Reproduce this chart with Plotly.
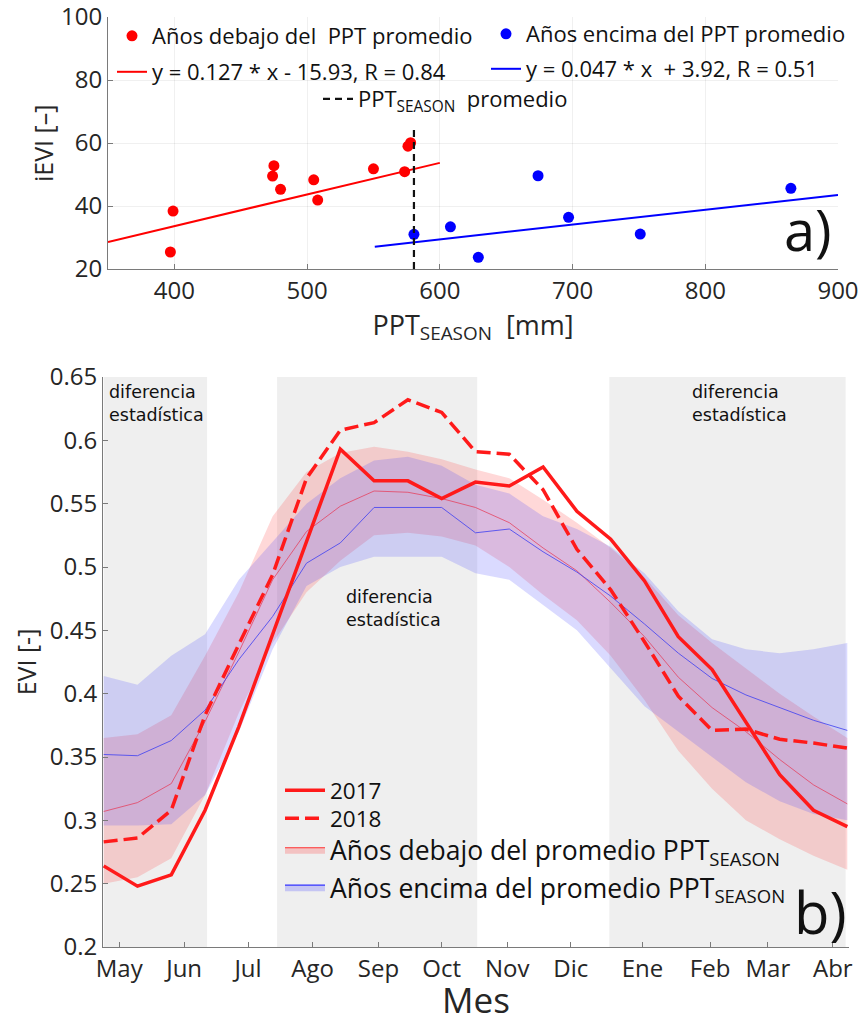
import plotly.graph_objects as go

# ---------------- Panel a) data ----------------
ppt_below = [397, 399, 475, 474, 480, 505, 508, 550, 573.5, 576, 578]
ievi_below = [25.4, 38.4, 52.8, 49.5, 45.3, 48.3, 41.9, 51.8, 50.9, 59.0, 60.1]
ppt_above = [580.5, 608, 629, 674, 697, 751, 864.5]
ievi_above = [31.0, 33.4, 23.7, 49.6, 36.4, 31.1, 45.6]
fit_below_x = [350, 600]
fit_below_y = [28.6, 53.7]
fit_above_x = [551, 900]
fit_above_y = [27.1, 43.5]
ppt_mean = 580.5
ppt_mean_line_y = [20, 64.8]

# ---------------- Panel b) data ----------------
idx = list(range(23))  # 16-day composites
months = ["May", "Jun", "Jul", "Ago", "Sep", "Oct", "Nov", "Dic", "Ene", "Feb", "Mar", "Abr"]
month_pos = [0.46, 2.38, 4.27, 6.18, 8.13, 10.0, 11.94, 13.82, 15.94, 17.94, 19.65, 21.57]

evi_2017 = [0.264, 0.248, 0.257, 0.308, 0.374, 0.447, 0.521, 0.593, 0.568, 0.568, 0.554, 0.567,
            0.564, 0.579, 0.544, 0.522, 0.489, 0.445, 0.419, 0.377, 0.336, 0.308, 0.295]
evi_2018 = [0.283, 0.286, 0.308, 0.383, 0.439, 0.494, 0.570, 0.608, 0.614, 0.632, 0.622, 0.591,
            0.589, 0.561, 0.514, 0.482, 0.441, 0.398, 0.371, 0.372, 0.364, 0.361, 0.357]
below_mean = [0.307, 0.314, 0.329, 0.378, 0.433, 0.490, 0.528, 0.548, 0.560, 0.559, 0.554, 0.547,
              0.535, 0.515, 0.497, 0.472, 0.445, 0.413, 0.389, 0.370, 0.348, 0.328, 0.313]
below_upper = [0.365, 0.368, 0.383, 0.430, 0.480, 0.540, 0.575, 0.590, 0.595, 0.591, 0.585, 0.577,
               0.570, 0.553, 0.535, 0.515, 0.492, 0.462, 0.440, 0.420, 0.400, 0.382, 0.365]
below_lower = [0.250, 0.255, 0.270, 0.320, 0.385, 0.440, 0.480, 0.505, 0.525, 0.527, 0.524, 0.517,
               0.500, 0.478, 0.458, 0.430, 0.395, 0.355, 0.325, 0.300, 0.285, 0.272, 0.261]
above_mean = [0.352, 0.351, 0.363, 0.387, 0.427, 0.461, 0.503, 0.519, 0.547, 0.547, 0.547, 0.527,
              0.530, 0.512, 0.496, 0.477, 0.455, 0.432, 0.412, 0.399, 0.389, 0.379, 0.371]
above_upper = [0.414, 0.407, 0.430, 0.447, 0.490, 0.520, 0.550, 0.570, 0.584, 0.587, 0.580, 0.565,
               0.558, 0.540, 0.530, 0.516, 0.495, 0.465, 0.443, 0.435, 0.432, 0.435, 0.440]
above_lower = [0.296, 0.296, 0.297, 0.320, 0.370, 0.435, 0.485, 0.500, 0.508, 0.508, 0.508, 0.495,
               0.490, 0.470, 0.450, 0.420, 0.390, 0.370, 0.350, 0.330, 0.315, 0.305, 0.300]
sig_start = [0, 5.13, 14.96]
sig_end = [3.06, 11.05, 21.95]
sig_label_x = [0.1, 7.1, 17.35]
sig_label_y = [0.648, 0.486, 0.648]

FONT = "Open Sans"
TXT = "#262626"
W, H = 861, 1025

fig = go.Figure()

# ---- panel a traces ----
fig.add_trace(go.Scatter(x=ppt_below, y=ievi_below, mode="markers",
                         marker=dict(color="#ff0000", size=11),
                         name="Años debajo del  PPT promedio", legend="legend"))
fig.add_trace(go.Scatter(x=ppt_above, y=ievi_above, mode="markers",
                         marker=dict(color="#0000ff", size=11),
                         name="Años encima del PPT promedio", legend="legend2"))
fig.add_trace(go.Scatter(x=fit_below_x, y=fit_below_y, mode="lines",
                         line=dict(color="#ff0000", width=2),
                         name="y = 0.127 * x - 15.93, R = 0.84", legend="legend3"))
fig.add_trace(go.Scatter(x=fit_above_x, y=fit_above_y, mode="lines",
                         line=dict(color="#0000ff", width=2),
                         name="y = 0.047 * x  + 3.92, R = 0.51", legend="legend4"))
fig.add_trace(go.Scatter(x=[ppt_mean, ppt_mean], y=ppt_mean_line_y, mode="lines",
                         line=dict(color="#111111", width=2.2, dash="7px,5px"),
                         name="PPT<sub>SEASON</sub>  promedio", legend="legend5"))

# ---- panel b traces ----
fig.add_trace(go.Scatter(x=idx + idx[::-1], y=below_upper + below_lower[::-1],
                         fill="toself", fillcolor="rgba(255,60,60,0.2)",
                         line=dict(color="rgba(255,0,0,0.0)", width=0.5),
                         mode="lines", showlegend=False, hoverinfo="skip",
                         xaxis="x2", yaxis="y2"))
fig.add_trace(go.Scatter(x=idx + idx[::-1], y=above_upper + above_lower[::-1],
                         fill="toself", fillcolor="rgba(70,70,255,0.2)",
                         line=dict(color="rgba(0,0,255,0.0)", width=0.5),
                         mode="lines", showlegend=False, hoverinfo="skip",
                         xaxis="x2", yaxis="y2"))
fig.add_trace(go.Scatter(x=idx, y=below_mean, mode="lines",
                         line=dict(color="rgba(230,60,90,0.75)", width=1),
                         showlegend=False, xaxis="x2", yaxis="y2"))
fig.add_trace(go.Scatter(x=idx, y=above_mean, mode="lines",
                         line=dict(color="rgba(70,70,240,0.85)", width=1),
                         showlegend=False, xaxis="x2", yaxis="y2"))
fig.add_trace(go.Scatter(x=idx, y=evi_2018, mode="lines",
                         line=dict(color="#ff1a1a", width=3.5, dash="14px,6px"),
                         name="2018", legend="legend8", xaxis="x2", yaxis="y2"))
fig.add_trace(go.Scatter(x=idx, y=evi_2017, mode="lines",
                         line=dict(color="#ff1a1a", width=3.5),
                         name="2017", legend="legend6", xaxis="x2", yaxis="y2"))
# legend-only entries for the bands
fig.add_trace(go.Scatter(x=[None], y=[None], mode="lines", fill="toself",
                         fillcolor="rgba(255,60,60,0.25)", line=dict(color="#ff3030", width=1.2),
                         name="Años debajo del promedio PPT<sub>SEASON</sub>",
                         legend="legend7", legendrank=3, xaxis="x2", yaxis="y2"))
fig.add_trace(go.Scatter(x=[None], y=[None], mode="lines", fill="toself",
                         fillcolor="rgba(70,70,255,0.25)", line=dict(color="#3030ff", width=1.2),
                         name="Años encima del promedio PPT<sub>SEASON</sub>",
                         legend="legend7", legendrank=4, xaxis="x2", yaxis="y2"))

# gray "statistical difference" periods
shapes = []
for s, e in zip(sig_start, sig_end):
    shapes.append(dict(type="rect", xref="x2", yref="y2 domain", x0=s, x1=e, y0=0, y1=1,
                       fillcolor="#efefef", line=dict(width=0), layer="below"))

annotations = []
for lx, ly in zip(sig_label_x, sig_label_y):
    annotations.append(dict(x=lx, y=ly, xref="x2", yref="y2", text="diferencia<br>estadística",
                            showarrow=False, xanchor="left", yanchor="top", align="left",
                            font=dict(family="DejaVu Sans", size=17.5, color="#111111")))
annotations.append(dict(x=0.995, y=0.0, xref="x domain", yref="y domain", text="a)",
                        showarrow=False, xanchor="right", yanchor="bottom",
                        font=dict(family=FONT, size=56, color="#111111")))
annotations.append(dict(x=1.0, y=-0.01, xref="x2 domain", yref="y2 domain", text="b)",
                        showarrow=False, xanchor="right", yanchor="bottom",
                        font=dict(family=FONT, size=58, color="#111111")))
# y-axis title of panel a
annotations.append(dict(x=43 / W, y=1 - 144 / H, xref="paper", yref="paper", text="iEVI [–]",
                        showarrow=False, textangle=-90, xanchor="center", yanchor="middle",
                        font=dict(family=FONT, size=25, color=TXT)))
# x-axis title of panel b
annotations.append(dict(x=476 / W, y=0.0, xref="paper", yref="paper", text="Mes",
                        showarrow=False, xanchor="center", yanchor="bottom",
                        font=dict(family=FONT, size=35, color=TXT)))

axis_common = dict(showline=True, linecolor="#7a7a7a", linewidth=1, ticks="inside",
                   ticklen=5, tickcolor="#7a7a7a", zeroline=False, automargin=False,
                   ticklabeloverflow="allow",
                   tickfont=dict(family=FONT, size=24, color=TXT))

leg_common = dict(bgcolor="rgba(0,0,0,0)", borderwidth=0,
                  font=dict(family=FONT, size=22, color="#111111"),
                  xanchor="left", yanchor="top", itemwidth=30, orientation="h")
leg_bottom = {**leg_common, "orientation": "v", "itemwidth": 40}

fig.update_layout(
    width=W, height=H, margin=dict(l=0, r=0, t=0, b=0, autoexpand=False),
    paper_bgcolor="white", plot_bgcolor="rgba(0,0,0,0)",
    xaxis=dict(domain=[108 / W, 838 / W], anchor="y", range=[350, 900],
               tickvals=[400, 500, 600, 700, 800, 900], showgrid=True,
               gridcolor="rgba(0,0,0,0.06)",
               title=dict(text="PPT<sub>SEASON</sub>  [mm]", standoff=8,
                          font=dict(family=FONT, size=27, color=TXT)),
               **axis_common),
    yaxis=dict(domain=[1 - 269 / H, 1 - 17 / H], anchor="x", range=[20, 100],
               tickvals=[20, 40, 60, 80, 100], showgrid=True,
               gridcolor="rgba(0,0,0,0.06)",
               **axis_common),
    xaxis2=dict(domain=[103 / W, 849 / W], anchor="y2", range=[-0.02, 22.05],
                tickvals=month_pos, ticktext=months, showgrid=False,
                **axis_common),
    yaxis2=dict(domain=[1 - 947 / H, 1 - 377 / H], anchor="x2", range=[0.2, 0.65],
                dtick=0.05, tick0=0.2, showgrid=False,
                title=dict(text="EVI [-]", standoff=5, font=dict(family=FONT, size=25, color=TXT)),
                **axis_common),
    legend=dict(x=112 / W, y=1 - 15 / H, **leg_common),
    legend2=dict(x=486 / W, y=1 - 13 / H, **leg_common),
    legend3=dict(x=112 / W, y=1 - 51 / H, **leg_common),
    legend4=dict(x=486 / W, y=1 - 48 / H, **leg_common),
    legend5=dict(x=318 / W, y=1 - 78 / H, **leg_common),
    legend6=dict(x=280 / W, y=1 - 769 / H,
                 **{**leg_bottom, "font": dict(family=FONT, size=22.5, color="#111111")}),
    legend8=dict(x=280 / W, y=1 - 797 / H,
                 **{**leg_bottom, "font": dict(family=FONT, size=22.5, color="#111111")}),
    legend7=dict(x=280 / W, y=1 - 826 / H,
                 **{**leg_bottom, "font": dict(family=FONT, size=26.5, color="#111111")}),
    shapes=shapes,
    annotations=annotations,
)

fig.write_html("out.html")
